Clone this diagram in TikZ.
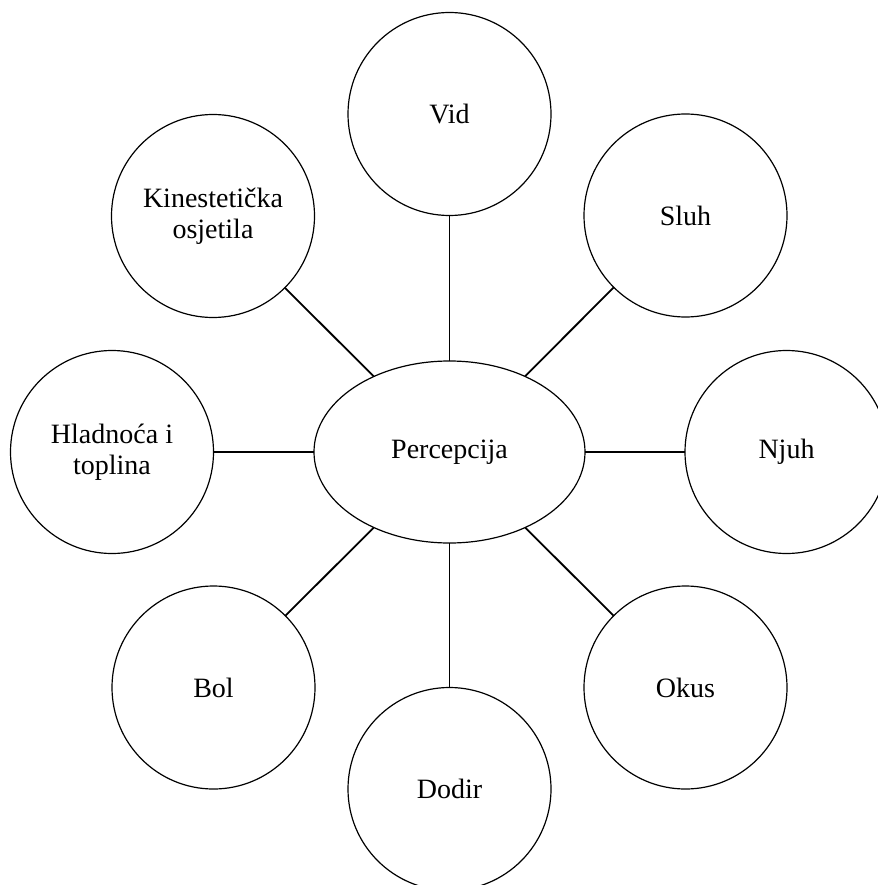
\documentclass[tikz,border=0pt]{standalone}
\usepackage{fontspec}
\setmainfont{Liberation Serif}
\usetikzlibrary{shapes.geometric}
\begin{document}
\begin{tikzpicture}[x=1pt,y=-1pt,
  sense/.style={circle,draw,line width=1.2pt,minimum size=203pt,inner sep=0pt,outer sep=0pt,align=center,font=\fontsize{28}{31}\selectfont},
  hub/.style={ellipse,draw,line width=1.2pt,minimum width=271pt,minimum height=182pt,inner sep=0pt,outer sep=0pt,font=\fontsize{28}{31}\selectfont},
  link/.style={line width=1.8pt}]
\useasboundingbox (0,0) rectangle (877,885);
\node[hub] (p) at (449.5,452) {Percepcija};
\node[sense] (vid) at (449.5,114) {Vid};
\node[sense] (sluh) at (685.5,215.5) {Sluh};
\node[sense] (njuh) at (786.5,452) {Njuh};
\node[sense] (okus) at (685.5,687.5) {Okus};
\node[sense] (dodir) at (449.5,789) {Dodir};
\node[sense] (bol) at (213.5,687.5) {Bol};
\node[sense] (hl) at (112,452) {Hladnoća i\\toplina};
\node[sense] (kin) at (213,216) {Kinestetička\\osjetila};
\foreach \s in {vid,sluh,njuh,okus,dodir,bol,hl,kin}
  \draw[link] (p) -- (\s);
\end{tikzpicture}
\end{document}
